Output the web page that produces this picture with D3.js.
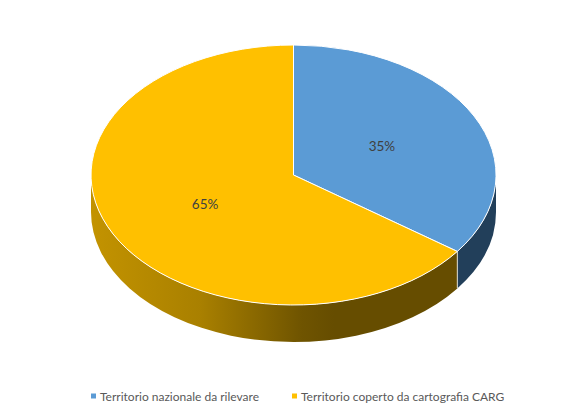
<!DOCTYPE html>
<html>
<head>
<meta charset="utf-8">
<script src="https://cdn.jsdelivr.net/npm/d3@7"></script>
<style>
  html, body { margin: 0; padding: 0; background: #fff; }
  svg { display: block; }
  text { font-family: Lato, "Open Sans", sans-serif; }
</style>
</head>
<body>
<div id="chart"></div>
<script>
var categories = ["Territorio nazionale da rilevare", "Territorio coperto da cartografia CARG"];
var values = [35, 65];
var labels = ["35%", "65%"];
var colors = ["#5b9bd5", "#ffc000"];

var width = 587, height = 418;
var depth = 37;

var svg = d3.select("#chart").append("svg")
  .attr("width", width)
  .attr("height", height);

// gold side goes dark towards the right, blue side is flat
var grad = svg.append("defs").append("linearGradient")
  .attr("id", "goldSide")
  .attr("gradientUnits", "userSpaceOnUse")
  .attr("x1", 91).attr("x2", 496)
  .attr("y1", 0).attr("y2", 0);
grad.append("stop").attr("offset", "0%").attr("stop-color", "#c39300");
grad.append("stop").attr("offset", "27%").attr("stop-color", "#a98000");
grad.append("stop").attr("offset", "52%").attr("stop-color", "#6f5400");
grad.append("stop").attr("offset", "60%").attr("stop-color", "#664d00");
grad.append("stop").attr("offset", "100%").attr("stop-color", "#664d00");

// unit circle squashed into an ellipse
var xScale = d3.scaleLinear().domain([-1, 1]).range([91, 496]);
var yScale = d3.scaleLinear().domain([-1, 1]).range([45, 305]);
var rx = (xScale(1) - xScale(-1)) / 2;
var ry = (yScale(1) - yScale(-1)) / 2;

var pie = d3.pie().sort(null);
var arcs = pie(values);

function px(a) { return xScale(Math.sin(a)); }
function py(a) { return yScale(-Math.cos(a)); }

// side wall, only the front half of the ellipse can be seen
function sidePath(a0, a1) {
  var from = Math.max(a0, Math.PI / 2);
  var to = Math.min(a1, Math.PI * 3 / 2);
  if (to <= from) return null;
  return "M" + px(from) + "," + py(from) +
    "A" + rx + "," + ry + " 0 0 1 " + px(to) + "," + py(to) +
    "L" + px(to) + "," + (py(to) + depth) +
    "A" + rx + "," + ry + " 0 0 0 " + px(from) + "," + (py(from) + depth) +
    "Z";
}

var sideFill = ["#223f5a", "url(#goldSide)"];

svg.selectAll("path.side")
  .data(arcs)
  .enter().append("path")
  .attr("class", "side")
  .attr("d", function(d) { return sidePath(d.startAngle, d.endAngle); })
  .attr("fill", function(d, i) { return sideFill[i]; });

// light seam between the two side walls
var seam = arcs[0].endAngle;
svg.append("line")
  .attr("x1", px(seam)).attr("y1", py(seam))
  .attr("x2", px(seam)).attr("y2", py(seam) + depth)
  .attr("stroke", "#d9d9d0")
  .attr("stroke-width", 1);

var arc = d3.arc().innerRadius(0).outerRadius(1);

svg.selectAll("path.top")
  .data(arcs)
  .enter().append("path")
  .attr("class", "top")
  .attr("d", arc)
  .attr("transform", "translate(" + xScale(0) + "," + yScale(0) + ") scale(" + rx + "," + ry + ")")
  .attr("fill", function(d, i) { return colors[i]; })
  .attr("stroke", "#fff")
  .attr("stroke-width", 1)
  .attr("vector-effect", "non-scaling-stroke");

// data labels sit about halfway out
svg.selectAll("text.pct")
  .data(arcs)
  .enter().append("text")
  .attr("class", "pct")
  .attr("x", function(d) { return px((d.startAngle + d.endAngle) / 2) * 0.49 + xScale(0) * 0.51; })
  .attr("y", function(d) { return py((d.startAngle + d.endAngle) / 2) * 0.49 + yScale(0) * 0.51 + 5; })
  .attr("text-anchor", "middle")
  .attr("font-size", 13.5)
  .attr("fill", "#404040")
  .text(function(d, i) { return labels[i]; });

// legend
var legendX = [91, 292];
var legend = svg.selectAll("g.legend")
  .data(categories)
  .enter().append("g")
  .attr("class", "legend")
  .attr("transform", function(d, i) { return "translate(" + legendX[i] + ",396)"; });

legend.append("rect")
  .attr("x", 0).attr("y", -2.5)
  .attr("width", 5).attr("height", 5)
  .attr("fill", function(d, i) { return colors[i]; });

legend.append("text")
  .attr("x", 9).attr("y", 4.5)
  .attr("font-size", 12)
  .attr("fill", "#595959")
  .text(function(d) { return d; });
</script>
</body>
</html>
